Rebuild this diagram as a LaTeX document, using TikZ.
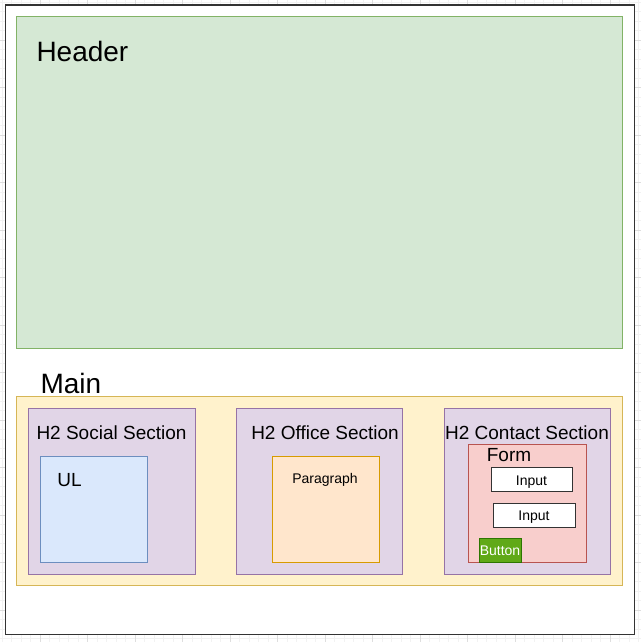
\documentclass[tikz,border=0pt]{standalone}
\usepackage{fontspec}
\setmainfont{Liberation Sans}
\usetikzlibrary{positioning}

\definecolor{headerfill}{HTML}{D5E8D4}
\definecolor{headerline}{HTML}{82B366}
\definecolor{mainfill}{HTML}{FFF2CC}
\definecolor{mainline}{HTML}{D6B656}
\definecolor{sectionfill}{HTML}{E1D5E7}
\definecolor{sectionline}{HTML}{9673A6}
\definecolor{ulfill}{HTML}{DAE8FC}
\definecolor{ulline}{HTML}{6C8EBF}
\definecolor{parafill}{HTML}{FFE6CC}
\definecolor{paraline}{HTML}{D79B00}
\definecolor{formfill}{HTML}{F8CECC}
\definecolor{formline}{HTML}{B85450}
\definecolor{buttonfill}{HTML}{60A917}
\definecolor{buttonline}{HTML}{2D7600}

\begin{document}
\begin{tikzpicture}[x=1pt,y=-1pt,line width=1pt,
    box/.style={draw,rectangle,anchor=north west,inner sep=0pt},
    section box/.style={box,fill=sectionfill,draw=sectionline,minimum width=166pt,minimum height=166pt},
    inner box/.style={box,minimum width=107pt,minimum height=106pt},
    input box/.style={box,fill=white,draw=black!80,minimum width=81pt,minimum height=24pt},
    big text/.style={font=\fontsize{28}{32}\selectfont,anchor=base west,inner sep=0pt},
    mid text/.style={font=\fontsize{19}{22}\selectfont,anchor=base,inner sep=0pt},
    small text/.style={font=\fontsize{14}{16}\selectfont,anchor=base,inner sep=0pt}]

\useasboundingbox (0,0) rectangle (641,642);

% grid behind the page
\foreach \g in {2,11.5,...,641} {
  \draw[black!5,line width=0.5pt] (\g,0) -- (\g,642);
  \draw[black!5,line width=0.5pt] (0,\g) -- (641,\g);
}
\foreach \g in {40,87.5,...,641} {
  \draw[black!13,line width=0.5pt] (\g,0) -- (\g,642);
  \draw[black!13,line width=0.5pt] (0,\g) -- (641,\g);
}

\node[box,fill=white,draw=black!80,line width=1.3pt,minimum width=629pt,minimum height=629pt] (page) at (4.5,4.5) {};

% header
\node[box,fill=headerfill,draw=headerline,minimum width=606pt,minimum height=332pt] (header) at (16,16) {};
\node[big text] (headerlabel) at (36,61) {Header};

% main
\node[big text] (mainlabel) at (40,393) {Main};
\node[box,fill=mainfill,draw=mainline,minimum width=606pt,minimum height=189pt] (main) at (16,396) {};

% sections
\node[section box,minimum width=167pt] (social) at (28,408) {};
\node[section box] (office) at (236,408) {};
\node[section box] (contact) at (444,408) {};
\node[mid text] (sociallabel) at (111.5,439) {H2 Social Section};
\node[mid text] (officelabel) at (325,439) {H2 Office Section};
\node[mid text] (contactlabel) at (527,439) {H2 Contact Section};

% social
\node[inner box,fill=ulfill,draw=ulline] (ul) at (40,456) {};
\node[mid text] (ullabel) at (69.5,486) {UL};

% office
\node[inner box,fill=parafill,draw=paraline] (para) at (272,456) {};
\node[small text] (paralabel) at (325,483) {Paragraph};

% contact
\node[box,fill=formfill,draw=formline,minimum width=118pt,minimum height=118pt] (form) at (468,444) {};
\node[mid text] (formlabel) at (509,461.5) {Form};
\node[input box] (input1) at (491,467) {};
\node[small text] (input1label) at (531.5,485) {Input};
\node[input box,minimum width=82pt] (input2) at (493,503) {};
\node[small text] (input2label) at (534,520) {Input};
\node[box,fill=buttonfill,draw=buttonline,minimum width=42pt,minimum height=24pt] (button) at (479,538) {};
\node[small text,text=white] (buttonlabel) at (500,555) {Button};

\end{tikzpicture}
\end{document}
